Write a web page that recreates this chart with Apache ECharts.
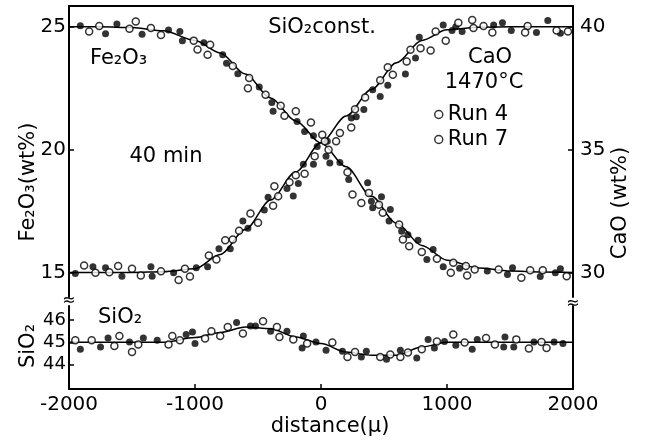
<!DOCTYPE html>
<html>
<head>
<meta charset="utf-8">
<script src="https://cdn.jsdelivr.net/npm/echarts@6/dist/echarts.min.js"></script>
<style>
  html, body { margin: 0; padding: 0; background: #fff; }
  #chart { width: 647px; height: 441px; }
</style>
</head>
<body>
<div id="chart"></div>
<script>
// distance in microns, wt% values
var xTicks = [-2000, -1000, 0, 1000, 2000];
var feTicks = [15, 20, 25];
var caoTicks = [30, 35, 40];
var sioTicks = [44, 45, 46];

// Fe2O3, filled dots (Run 4)
var feRun4 = [[-1910,25.05],[-1710,24.72],[-1620,25.12],[-1420,24.70],[-1210,24.87],[-1120,24.81],[-1100,24.44],[-930,24.35],[-780,23.86],[-750,23.52],[-660,23.09],[-490,22.55],[-390,21.92],[-380,21.56],[-190,21.15],[-130,20.74],[-60,20.57],[-30,20.13],[50,20.34],[40,19.73],[70,19.46],[150,19.48],[220,18.78],[370,18.65],[400,17.90],[480,18.08],[410,17.63],[550,17.56],[540,17.09],[640,16.68],[690,16.54],[770,16.31],[840,15.53],[890,15.93],[970,15.23],[1100,15.17],[1320,15.06],[1480,14.92],[1520,15.19],[1740,14.83],[1860,14.99],[1900,15.15]];
// Fe2O3, open circles (Run 7)
var feRun7 = [[-1840,24.81],[-1760,25.04],[-1470,25.22],[-1520,24.92],[-1350,24.95],[-1270,24.67],[-1010,24.44],[-980,24.08],[-880,24.27],[-900,23.86],[-700,23.41],[-570,22.92],[-580,22.50],[-440,22.24],[-320,21.79],[-290,21.38],[-200,21.56],[-80,21.11],[10,20.61],[30,20.34],[60,20.00],[210,19.08],[250,18.17],[320,17.83],[380,18.24],[460,17.76],[490,17.43],[620,16.95],[650,16.34],[700,16.07],[800,15.83],[920,15.56],[1030,14.99],[1050,15.39],[1150,15.26],[1160,14.88],[1220,15.12],[1410,15.12],[1590,14.78],[1660,15.09],[1760,15.09],[1950,14.85]];

// CaO, filled dots (Run 4)
var caoRun4 = [[-1950,29.96],[-1810,30.23],[-1710,30.19],[-1580,29.85],[-1350,30.23],[-1340,29.85],[-1170,29.99],[-990,30.19],[-900,30.23],[-810,30.96],[-720,30.96],[-620,32.09],[-580,31.80],[-450,32.54],[-420,33.06],[-270,33.42],[-220,33.11],[-180,33.62],[-140,34.41],[-60,34.41],[240,36.29],[280,36.34],[340,36.64],[410,37.44],[470,37.16],[530,37.62],[670,38.08],[750,38.73],[780,39.58],[970,40.08],[1040,39.85],[1070,40.01],[1120,39.81],[1370,40.08],[1440,40.17],[1510,39.85],[1710,39.77],[1800,40.26],[1900,39.74]];
// CaO, open circles (Run 7)
var caoRun7 = [[-1880,30.28],[-1790,29.99],[-1680,30.01],[-1610,30.26],[-1500,30.15],[-1430,29.88],[-1270,30.05],[-1130,29.69],[-1080,30.15],[-1040,29.83],[-890,30.69],[-830,30.53],[-760,31.31],[-700,31.34],[-650,31.70],[-560,32.40],[-500,32.02],[-380,32.72],[-370,33.51],[-340,33.10],[-250,33.67],[-200,33.96],[-130,34.02],[-50,34.73],[120,35.34],[150,35.68],[240,35.90],[270,36.65],[350,37.12],[470,37.83],[530,38.36],[570,38.05],[680,38.59],[710,39.07],[790,39.13],[870,39.04],[910,39.81],[990,39.44],[1090,40.17],[1200,40.28],[1210,39.95],[1290,40.04],[1360,39.77],[1640,40.04],[1620,39.77],[1870,39.85],[1960,39.81]];

// SiO2, filled dots (Run 4)
var sioRun4 = [[-1910,44.69],[-1750,44.79],[-1690,45.19],[-1520,45.01],[-1410,45.19],[-1300,45.09],[-1070,45.35],[-1020,45.46],[-1000,44.94],[-670,45.89],[-560,45.73],[-520,45.73],[-400,45.49],[-270,45.49],[-140,45.28],[-150,44.74],[-40,45.01],[40,44.64],[170,44.60],[320,44.34],[360,44.60],[520,44.24],[630,44.64],[760,44.29],[850,45.13],[900,44.74],[980,45.04],[1070,44.87],[1200,44.69],[1240,45.13],[1460,45.24],[1450,44.79],[1530,44.79],[1690,45.01],[1850,45.01],[1920,44.94]];
// SiO2, open circles (Run 7)
var sioRun7 = [[-1950,45.09],[-1820,45.09],[-1640,44.83],[-1600,45.28],[-1500,44.56],[-1450,44.90],[-1210,44.90],[-1180,45.28],[-1120,45.09],[-920,45.17],[-870,45.49],[-800,45.28],[-740,45.69],[-620,45.39],[-460,45.94],[-350,45.69],[-330,45.24],[-220,45.13],[-110,44.94],[90,44.99],[210,44.34],[270,44.56],[470,44.34],[550,44.45],[630,44.34],[690,44.54],[800,44.69],[920,45.04],[1050,45.35],[1140,44.99],[1310,45.19],[1380,44.90],[1550,45.13],[1650,44.72],[1750,45.01],[1790,44.74]];

// drawn-in curves, read at these distances
var curveDist = [-2000,-1750,-1500,-1250,-1000,-800,-600,-400,-200,0,200,400,600,800,1000,1250,1500,1750,2000];
var feCurve  = [25.0,25.0,24.97,24.84,24.45,23.94,23.08,22.1,21.17,20.27,19.3,18.1,17.0,16.1,15.5,15.18,15.06,15.02,15.0];
var caoCurve = [30.0,30.0,30.0,30.03,30.15,30.73,31.75,32.95,34.1,35.28,36.37,37.45,38.54,39.45,39.88,39.98,40.0,40.0,40.0];
var sioCurve = [45.0,45.0,45.0,45.0,45.21,45.44,45.69,45.61,45.24,44.94,44.56,44.42,44.42,44.79,45.0,45.0,45.0,45.0,45.0];

function pairs(xs, ys) {
  return xs.map(function (x, i) { return [x, ys[i]]; });
}

var FONT = 'DejaVu Sans';
var axisLine = { show: true, onZero: false, lineStyle: { color: '#000', width: 2 } };
var openStyle = { color: '#fff', borderColor: '#000', borderWidth: 1.5 };
var fillStyle = { color: '#000' };

function yAxisCfg(grid, pos, min, max, ticks, size) {
  return {
    type: 'value', gridIndex: grid, position: pos, min: min, max: max,
    axisLine: axisLine,
    axisTick: ticks ? { show: true, inside: true, length: 5, customValues: ticks, lineStyle: { color: '#000', width: 1.5 } } : { show: false },
    axisLabel: ticks ? { show: true, customValues: ticks, color: '#000', fontSize: size, fontFamily: FONT, margin: pos === 'left' ? 3 : 7 } : { show: false },
    splitLine: { show: false }
  };
}

function fitLine(name, xi, yi, data) {
  return {
    name: name, type: 'line', xAxisIndex: xi, yAxisIndex: yi, data: data,
    showSymbol: false, smooth: 0.3, smoothMonotone: 'x', z: 1, silent: true,
    lineStyle: { color: '#000', width: 1.5 }
  };
}

function dots(name, xi, yi, data, style) {
  return {
    name: name, type: 'scatter', xAxisIndex: xi, yAxisIndex: yi, data: data,
    symbol: 'circle', symbolSize: 7, itemStyle: style, z: 3
  };
}

function label(text, x, y, opts) {
  opts = opts || {};
  return {
    type: 'text', x: x, y: y, rotation: opts.rotation || 0, z: 10,
    style: {
      text: text, fill: '#000', fontSize: opts.size || 21, fontFamily: FONT,
      align: opts.align || 'center', verticalAlign: 'middle'
    }
  };
}

var chart = echarts.init(document.getElementById('chart'));
chart.setOption({
  animation: false,
  backgroundColor: '#fff',
  grid: [
    { left: 69, width: 504, top: 6, height: 291 },
    { left: 69, width: 504, top: 306, height: 83 }
  ],
  xAxis: [
    { type: 'value', gridIndex: 0, position: 'top', min: -2000, max: 2000,
      axisLine: axisLine, axisTick: { show: false }, axisLabel: { show: false }, splitLine: { show: false } },
    { type: 'value', gridIndex: 1, position: 'bottom', min: -2000, max: 2000, interval: 1000,
      axisLine: axisLine,
      axisTick: { show: true, inside: true, length: 5, lineStyle: { color: '#000', width: 1.5 } },
      axisLabel: { color: '#000', fontSize: 20, fontFamily: FONT, margin: 6,
        customValues: xTicks, formatter: function (v) { return String(v); } },
      splitLine: { show: false },
      name: 'distance(μ)', nameLocation: 'middle', nameGap: 20,
      nameTextStyle: { color: '#000', fontSize: 21, fontFamily: FONT, padding: [0, 0, 0, 18] } }
  ],
  yAxis: [
    yAxisCfg(0, 'left', 14, 25.85, feTicks, 20),
    yAxisCfg(0, 'right', 29, 40.85, caoTicks, 20),
    yAxisCfg(1, 'left', 42.9, 46.63, sioTicks, 18),
    yAxisCfg(1, 'right', 42.9, 46.63, null, 18)
  ],
  legend: {
    orient: 'vertical', left: 434, top: 104, itemGap: 4,
    itemWidth: 8, itemHeight: 8, padding: 0,
    textStyle: { color: '#000', fontSize: 21, fontFamily: FONT },
    data: [
      { name: 'Run 4', icon: 'circle', itemStyle: openStyle },
      { name: 'Run 7', icon: 'circle', itemStyle: openStyle }
    ]
  },
  series: [
    fitLine('Fe2O3 fit', 0, 0, pairs(curveDist, feCurve)),
    fitLine('CaO fit', 0, 1, pairs(curveDist, caoCurve)),
    fitLine('SiO2 fit', 1, 2, pairs(curveDist, sioCurve)),
    dots('Run 4', 0, 0, feRun4, fillStyle),
    dots('Run 7', 0, 0, feRun7, openStyle),
    dots('Run 4', 0, 1, caoRun4, fillStyle),
    dots('Run 7', 0, 1, caoRun7, openStyle),
    dots('Run 4', 1, 2, sioRun4, fillStyle),
    dots('Run 7', 1, 2, sioRun7, openStyle)
  ],
  graphic: [
    label('SiO₂const.', 322, 28),
    label('Fe₂O₃', 90, 59, { align: 'left' }),
    label('40 min', 166, 157),
    label('CaO', 490, 58),
    label('1470°C', 484, 83),
    label('SiO₂', 98, 318, { align: 'left' }),
    label('Fe₂O₃(wt%)', 29, 182, { rotation: Math.PI / 2 }),
    label('CaO (wt%)', 621, 203, { rotation: Math.PI / 2 }),
    label('SiO₂', 29, 346, { rotation: Math.PI / 2 }),
    label('≈', 69, 301, { size: 16 }),
    label('≈', 573, 304, { size: 16 })
  ]
});
</script>
</body>
</html>
